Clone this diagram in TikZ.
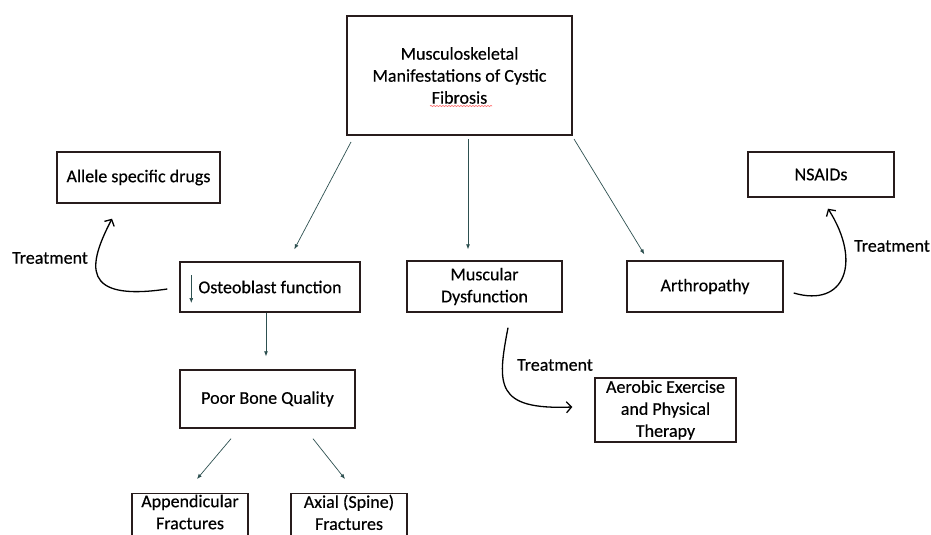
\documentclass[tikz,border=0pt]{standalone}
\usepackage{fontspec}
\setmainfont{Carlito}[BoldFont=Carlito, BoldFeatures={FakeBold=0.4}]
\usetikzlibrary{arrows.meta, positioning, decorations.pathmorphing}
\definecolor{linecol}{RGB}{45,80,80}
\definecolor{boxcol}{RGB}{40,28,28}

\begin{document}
\begin{tikzpicture}[x=1pt,y=-1pt]
\useasboundingbox (0,0) rectangle (931,535);

\tikzset{box/.style = {draw=boxcol, line width=1.4pt, align=center, inner sep=1pt, font=\fontsize{18}{22}\selectfont\bfseries}}
\tikzset{arr/.style = {draw=linecol, line width=0.7pt, -{Latex[length=5pt,width=4pt]}}}
\tikzset{treat/.style = {line width=1.3pt, -{Straight Barb[length=5pt,width=11pt]}}}
\tikzset{lbl/.style = {font=\fontsize{18}{22}\selectfont\bfseries}}
% boxes
\node[box, line width=2pt, minimum width=225pt, minimum height=119pt] (cf) at (459.5,75.5) {Musculoskeletal\\Manifestations of Cystic\\Fibrosis};
\node[box, minimum width=163pt, minimum height=51pt] (allele) at (138.5,177.5) {Allele specific drugs};
\node[box, minimum width=180pt, minimum height=50pt] (osteo) at (270,287) {Osteoblast function};
\node[box, minimum width=155pt, minimum height=51pt] (musc) at (484.5,286.5) {Muscular\\Dysfunction};
\node[box, minimum width=156pt, minimum height=51pt] (arth) at (705,286.5) {Arthropathy};
\node[box, minimum width=146pt, minimum height=45pt] (nsaid) at (821,174.5) {NSAIDs};
\node[box, minimum width=175pt, minimum height=58pt] (pbq) at (267.5,399) {Poor Bone Quality};
\node[box, minimum width=141pt, minimum height=64pt] (aer) at (665.5,410) {Aerobic Exercise\\and Physical\\Therapy};
\node[box, anchor=north, text depth=25pt, minimum width=116pt] (app) at (190,493) {Appendicular\\Fractures};
\node[box, anchor=north, text depth=25pt, minimum width=116pt] (axial) at (349,493) {Axial (Spine)\\Fractures};
% labels
\node[lbl] (t1) at (50,258) {Treatment};
\node[lbl] (t2) at (555,365) {Treatment};
\node[lbl] (t3) at (892,246) {Treatment};
% edges
\draw[arr] ([xshift=5pt,yshift=-6pt]cf.south west) -- ([xshift=115pt,yshift=12pt]osteo.north west);
\draw[arr] ([xshift=8.5pt,yshift=-3pt]cf.south) -- ([xshift=-16.5pt,yshift=11pt]musc.north);
\draw[arr] ([xshift=1pt,yshift=-3pt]cf.south east) -- ([xshift=18pt,yshift=6pt]arth.north west);
\draw[arr] ([xshift=-4pt]osteo.south) -- ([xshift=-1.5pt,yshift=13pt]pbq.north);
\draw[arr] ([xshift=-36.5pt,yshift=-10pt]pbq.south) -- ([xshift=7pt,yshift=14pt]app.north);
\draw[arr] ([xshift=45.5pt,yshift=-10pt]pbq.south) -- ([xshift=-4pt,yshift=14pt]axial.north);
\draw[arr] ([xshift=12pt,yshift=12pt]osteo.west) -- ([xshift=12pt,yshift=-16pt]osteo.west);
% treatment
\draw[treat] ([xshift=-12pt,yshift=-2pt]osteo.west) .. controls (80,302) and (88,265) .. ([xshift=-26.5pt,yshift=-15pt]allele.south);
\draw[treat] ([xshift=23.5pt,yshift=-15pt]musc.south) .. controls (497,385) and (495,410) .. ([xshift=-22pt,yshift=3pt]aer.west);
\draw[treat] ([xshift=10pt,yshift=-6.5pt]arth.east) .. controls (845,308) and (862,262) .. ([xshift=7pt,yshift=-11pt]nsaid.south);
\draw[red!60, line width=0.6pt, decorate, decoration={snake, amplitude=0.6pt, segment length=3pt}] (430,106) -- (492,106);

\end{tikzpicture}
\end{document}
